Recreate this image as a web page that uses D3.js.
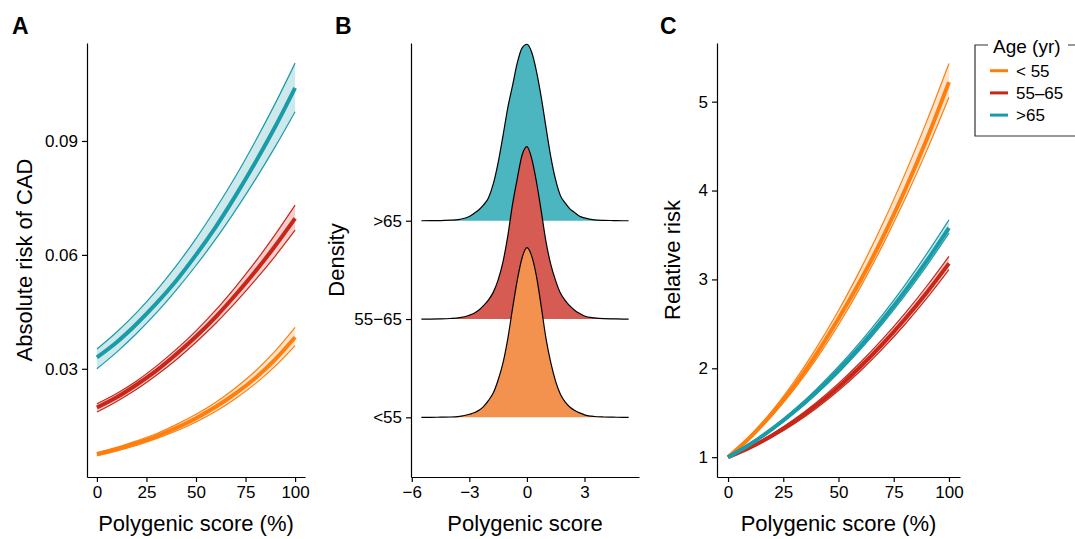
<!DOCTYPE html>
<html>
<head>
<meta charset="utf-8">
<script src="https://cdn.jsdelivr.net/npm/d3@7"></script>
<style>
  body { margin: 0; background: #fff; }
  svg text { font-family: "Liberation Sans", Arial, Helvetica, sans-serif; fill: #000; }
</style>
</head>
<body>
<div id="chart"></div>
<script>
// ---- data ----
var ageGroups = ["<55", "55\u201365", ">65"];
var legendLabels = ["< 55", "55\u201365", ">65"];
var pctScore = [0, 10, 20, 30, 40, 50, 60, 70, 80, 90, 100];

// panel A: absolute risk (center, upper, lower)
var absYoung = [0.0075, 0.0088, 0.0104, 0.0122, 0.0144, 0.0170, 0.0200, 0.0235, 0.0276, 0.0325, 0.0383];
var absYoungHi = [0.0079, 0.0093, 0.0110, 0.0129, 0.0153, 0.0180, 0.0212, 0.0250, 0.0294, 0.0347, 0.0409];
var absYoungLo = [0.0071, 0.0084, 0.0098, 0.0116, 0.0136, 0.0160, 0.0188, 0.0222, 0.0261, 0.0307, 0.0361];
var absMid = [0.0198, 0.0225, 0.0258, 0.0295, 0.0338, 0.0385, 0.0437, 0.0495, 0.0557, 0.0624, 0.0696];
var absMidHi = [0.0208, 0.0235, 0.0268, 0.0307, 0.0351, 0.0400, 0.0455, 0.0516, 0.0582, 0.0654, 0.0731];
var absMidLo = [0.0186, 0.0214, 0.0246, 0.0283, 0.0324, 0.0370, 0.0420, 0.0475, 0.0534, 0.0597, 0.0665];
var absOld = [0.0330, 0.0370, 0.0418, 0.0472, 0.0532, 0.0600, 0.0674, 0.0756, 0.0844, 0.0938, 0.1040];
var absOldHi = [0.0352, 0.0397, 0.0448, 0.0506, 0.0571, 0.0643, 0.0722, 0.0807, 0.0900, 0.0999, 0.1105];
var absOldLo = [0.0300, 0.0344, 0.0393, 0.0447, 0.0507, 0.0572, 0.0642, 0.0718, 0.0799, 0.0885, 0.0977];

// panel C: relative risk
var relYoung = [1, 1.224, 1.492, 1.804, 2.16, 2.56, 2.99, 3.47, 4.00, 4.58, 5.22];
var relYoungHi = [1, 1.24, 1.524, 1.854, 2.23, 2.65, 3.116, 3.626, 4.182, 4.784, 5.43];
var relYoungLo = [1, 1.212, 1.468, 1.766, 2.106, 2.49, 2.916, 3.386, 3.898, 4.452, 5.05];
var relMid = [1, 1.11, 1.244, 1.402, 1.584, 1.79, 2.02, 2.274, 2.552, 2.854, 3.18];
var relMidHi = [1, 1.118, 1.26, 1.426, 1.616, 1.83, 2.068, 2.33, 2.616, 2.926, 3.26];
var relMidLo = [1, 1.101, 1.227, 1.377, 1.551, 1.75, 1.973, 2.221, 2.493, 2.789, 3.11];
var relOld = [1, 1.146, 1.318, 1.514, 1.734, 1.98, 2.25, 2.546, 2.866, 3.21, 3.58];
var relOldHi = [1, 1.154, 1.332, 1.536, 1.766, 2.02, 2.30, 2.604, 2.934, 3.29, 3.67];
var relOldLo = [1, 1.14, 1.306, 1.496, 1.71, 1.95, 2.214, 2.504, 2.818, 3.156, 3.52];

// panel B: density of polygenic score
var scoreGrid = [-5.5, -5, -4.5, -4, -3.5, -3, -2.75, -2.5, -2.25, -2, -1.75, -1.5, -1.25, -1, -0.75, -0.5, -0.25,
  0, 0.25, 0.5, 0.75, 1, 1.25, 1.5, 1.75, 2, 2.25, 2.5, 2.75, 3, 3.5, 4, 4.5, 5, 5.3];
var densYoung = [0, 0, 0.0004, 0.0008, 0.0025, 0.0076, 0.0114, 0.0178, 0.0275, 0.0423, 0.0613, 0.093, 0.135, 0.195, 0.271, 0.343, 0.398,
  0.423, 0.402, 0.351, 0.275, 0.195, 0.135, 0.089, 0.057, 0.038, 0.025, 0.017, 0.011, 0.0063, 0.0021, 0.0008, 0.0004, 0, 0];
var densMid = [0, 0, 0.0004, 0.0013, 0.0034, 0.0095, 0.0142, 0.0224, 0.034, 0.0477, 0.0671, 0.0976, 0.142, 0.206, 0.286, 0.351, 0.409,
  0.43, 0.40, 0.341, 0.268, 0.191, 0.135, 0.095, 0.064, 0.046, 0.032, 0.0215, 0.0138, 0.0077, 0.003, 0.0009, 0.0004, 0, 0];
var densOld = [0, 0.0004, 0.0004, 0.0013, 0.0035, 0.0106, 0.0185, 0.0273, 0.040, 0.0576, 0.0924, 0.145, 0.211, 0.281, 0.337, 0.394, 0.431,
  0.44, 0.42, 0.372, 0.307, 0.231, 0.158, 0.101, 0.062, 0.044, 0.029, 0.020, 0.011, 0.007, 0.0022, 0.0009, 0.0004, 0, 0];

var absTicks = [0.03, 0.06, 0.09];
var relTicks = [1, 2, 3, 4, 5];
var pctTicks = [0, 25, 50, 75, 100];
var scoreTicks = [-6, -3, 0, 3];

// ---- styling ----
var lineColors = ["#ff7f0e", "#c9261a", "#1a9ba8"];
var ridgeColors = ["#f3924f", "#d55b53", "#4bb6bf"];
var fontTick = 17, fontTitle = 22;

var svg = d3.select("#chart").append("svg")
  .attr("width", 1075)
  .attr("height", 539);

var plotTop = 43, plotBottom = 477;

function toPoints(xs, ys) {
  return xs.map(function(x, i) { return {x: x, y: ys[i]}; });
}

function axisStyle(g) {
  g.selectAll("path, line").attr("stroke", "#000").attr("stroke-width", 1.2);
  g.selectAll("text").style("font-size", fontTick + "px").attr("fill", "#000");
}

// draws one ribbon panel (A or C)
function riskPanel(left, right, yDomain, yTicks, yFmt, bands, yTitle, titleX, letter, letterX) {
  var x = d3.scaleLinear().domain([-5, 105]).range([left, right]);
  var y = d3.scaleLinear().domain(yDomain).range([plotBottom, plotTop]);
  var g = svg.append("g");

  var area = d3.area().curve(d3.curveCatmullRom)
    .x(function(d) { return x(d.x); })
    .y0(function(d) { return y(d.lo); })
    .y1(function(d) { return y(d.hi); });
  var line = d3.line().curve(d3.curveCatmullRom)
    .x(function(d) { return x(d.x); })
    .y(function(d) { return y(d.y); });

  bands.forEach(function(b) {
    var pts = pctScore.map(function(p, i) { return {x: p, lo: b.lo[i], hi: b.hi[i]}; });
    g.append("path").attr("d", area(pts))
      .attr("fill", b.color).attr("fill-opacity", 0.22).attr("stroke", "none");
    [b.hi, b.lo].forEach(function(v) {
      g.append("path").attr("d", line(toPoints(pctScore, v)))
        .attr("fill", "none").attr("stroke", b.color).attr("stroke-width", 1.2);
    });
    g.append("path").attr("d", line(toPoints(pctScore, b.mid)))
      .attr("fill", "none").attr("stroke", b.color).attr("stroke-width", 4);
  });

  svg.append("g")
    .attr("transform", "translate(0," + plotBottom + ")")
    .call(d3.axisBottom(x).tickValues(pctTicks).tickSizeInner(5).tickSizeOuter(0).tickPadding(4))
    .call(axisStyle);
  svg.append("g")
    .attr("transform", "translate(" + left + ",0)")
    .call(d3.axisLeft(y).tickValues(yTicks).tickFormat(yFmt).tickSizeInner(5).tickSizeOuter(0).tickPadding(4))
    .call(axisStyle);

  svg.append("text")
    .attr("x", (left + right) / 2).attr("y", 531)
    .attr("text-anchor", "middle").style("font-size", fontTitle + "px")
    .text("Polygenic score (%)");
  svg.append("text")
    .attr("transform", "translate(" + titleX + "," + (plotTop + plotBottom) / 2 + ") rotate(-90)")
    .attr("text-anchor", "middle").style("font-size", fontTitle + "px")
    .text(yTitle);
  svg.append("text")
    .attr("x", letterX).attr("y", 34)
    .style("font-size", "23px").style("font-weight", "bold")
    .text(letter);
}

// ---- panel A ----
riskPanel(87, 305, [0.0015, 0.1158], absTicks, d3.format(".2f"), [
  {mid: absOld, hi: absOldHi, lo: absOldLo, color: lineColors[2]},
  {mid: absMid, hi: absMidHi, lo: absMidLo, color: lineColors[1]},
  {mid: absYoung, hi: absYoungHi, lo: absYoungLo, color: lineColors[0]}
], "Absolute risk of CAD", 32, "A", 12);

// ---- panel C ----
riskPanel(717, 960, [0.777, 5.66], relTicks, d3.format("d"), [
  {mid: relYoung, hi: relYoungHi, lo: relYoungLo, color: lineColors[0]},
  {mid: relMid, hi: relMidHi, lo: relMidLo, color: lineColors[1]},
  {mid: relOld, hi: relOldHi, lo: relOldLo, color: lineColors[2]}
], "Relative risk", 680, "C", 660);

// ---- panel B: ridgelines ----
var xB = d3.scaleLinear().domain([-6.04, 5.84]).range([411, 639]);
var yB = d3.scaleLinear().domain([-0.607, 3.808]).range([plotBottom, plotTop]);
var ridgeScale = 4.08; // category units per density unit
var ridges = [densOld, densMid, densYoung];
var ridgeIdx = [2, 1, 0];

ridges.forEach(function(dens, r) {
  var k = ridgeIdx[r];
  var pts = scoreGrid.map(function(s, i) { return {x: s, d: dens[i]}; });
  var area = d3.area().curve(d3.curveMonotoneX)
    .x(function(d) { return xB(d.x); })
    .y0(yB(k))
    .y1(function(d) { return yB(k + d.d * ridgeScale); });
  var line = d3.line().curve(d3.curveMonotoneX)
    .x(function(d) { return xB(d.x); })
    .y(function(d) { return yB(k + d.d * ridgeScale); });
  svg.append("path").attr("d", area(pts)).attr("fill", ridgeColors[k]).attr("stroke", "none");
  svg.append("path").attr("d", line(pts)).attr("fill", "none").attr("stroke", "#000").attr("stroke-width", 1.2);
});

svg.append("g")
  .attr("transform", "translate(0," + plotBottom + ")")
  .call(d3.axisBottom(xB).tickValues(scoreTicks).tickFormat(d3.format("d")).tickSizeInner(5).tickSizeOuter(0).tickPadding(4))
  .call(axisStyle);
svg.append("g")
  .attr("transform", "translate(411,0)")
  .call(d3.axisLeft(yB).tickValues([0, 1, 2]).tickFormat(function(i) { return ageGroups[i].replace("\u2013", "\u2212"); })
    .tickSizeInner(5).tickSizeOuter(0).tickPadding(4))
  .call(axisStyle);
svg.append("text")
  .attr("x", 525).attr("y", 531)
  .attr("text-anchor", "middle").style("font-size", fontTitle + "px")
  .text("Polygenic score");
svg.append("text")
  .attr("transform", "translate(344," + (plotTop + plotBottom) / 2 + ") rotate(-90)")
  .attr("text-anchor", "middle").style("font-size", fontTitle + "px")
  .text("Density");
svg.append("text")
  .attr("x", 335).attr("y", 34)
  .style("font-size", "23px").style("font-weight", "bold")
  .text("B");

// ---- legend ----
var leg = svg.append("g");
leg.append("path")
  .attr("d", "M1090,45 H975 V136 H1090")
  .attr("fill", "none").attr("stroke", "#333").attr("stroke-width", 1.2);
leg.append("rect").attr("x", 988).attr("y", 38).attr("width", 80).attr("height", 14).attr("fill", "#fff");
leg.append("text").attr("x", 993).attr("y", 52.5).style("font-size", "19px").text("Age (yr)");
legendLabels.forEach(function(lab, i) {
  var yy = 70.7 + i * 22.2;
  leg.append("line").attr("x1", 990).attr("x2", 1008).attr("y1", yy).attr("y2", yy)
    .attr("stroke", lineColors[i]).attr("stroke-width", 3);
  leg.append("text").attr("x", 1016).attr("y", yy).attr("dy", "0.35em")
    .style("font-size", "17px").text(lab);
});
</script>
</body>
</html>
